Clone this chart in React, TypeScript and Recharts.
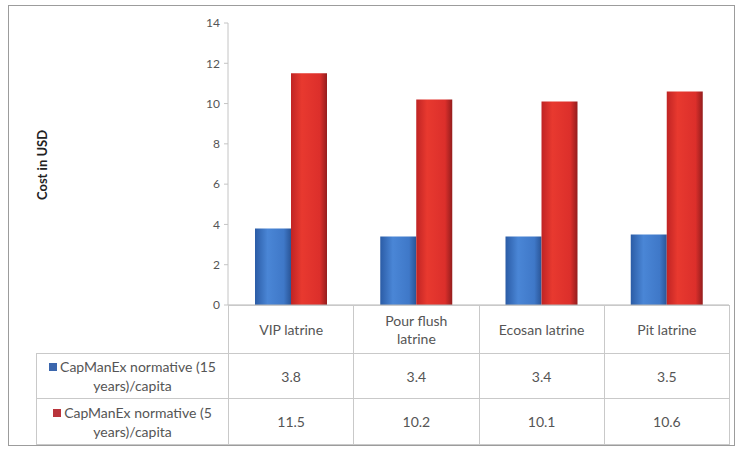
import { BarChart, Bar, XAxis, YAxis } from 'recharts'

const categories = ['VIP latrine', 'Pour flush latrine', 'Ecosan latrine', 'Pit latrine']
const series15 = [3.8, 3.4, 3.4, 3.5]
const series5 = [11.5, 10.2, 10.1, 10.6]
const seriesNames = ['CapManEx normative (15 years)/capita', 'CapManEx normative (5 years)/capita']
const yTicks = [0, 2, 4, 6, 8, 10, 12, 14]

const FONT = 'Lato, "Open Sans", sans-serif'
const LINE = '1px solid #c9c9c9'
const COL_W = 125.25

const data = categories.map((name, i) => ({ name, y15: series15[i], y5: series5[i] }))

export default function App() {
  const rows = [
    { name: seriesNames[0], values: series15, swatch: '#3b66ad' },
    { name: seriesNames[1], values: series5, swatch: '#b9343b' },
  ]

  return (
    <div style={{ position: 'absolute', left: 0, top: 0, width: 737, height: 449, background: '#fff', fontFamily: FONT }}>
      <div
        style={{
          position: 'absolute', left: 8, top: 5, width: 727, height: 441,
          border: '1.5px solid #9c9c9c', boxSizing: 'border-box',
        }}
      />
      <div style={{ position: 'absolute', left: 0, top: 0 }}>
        <BarChart
          width={737}
          height={449}
          data={data}
          margin={{ top: 23, right: 8, bottom: 114, left: 168 }}
          barGap={0}
          barSize={36}
        >
          <defs>
            <linearGradient id="blueGrad" x1="0" y1="0" x2="1" y2="0">
              <stop offset="0%" stopColor="#2b5ca6" />
              <stop offset="35%" stopColor="#4a86d6" />
              <stop offset="80%" stopColor="#3f78c8" />
              <stop offset="100%" stopColor="#2a5597" />
            </linearGradient>
            <linearGradient id="redGrad" x1="0" y1="0" x2="1" y2="0">
              <stop offset="0%" stopColor="#c02424" />
              <stop offset="30%" stopColor="#e8392f" />
              <stop offset="80%" stopColor="#dc2f2b" />
              <stop offset="100%" stopColor="#941d1d" />
            </linearGradient>
          </defs>
          <XAxis
            dataKey="name"
            height={30}
            tick={false}
            tickLine={false}
            axisLine={{ stroke: '#b5b5b5' }}
          />
          <YAxis
            width={60}
            domain={[0, 14]}
            ticks={yTicks}
            tickSize={4}
            tickMargin={4}
            axisLine={{ stroke: '#c4c4c4' }}
            tickLine={{ stroke: '#c4c4c4' }}
            tick={{ fill: '#555', fontSize: 12, fontFamily: FONT }}
          />
          <Bar dataKey="y15" fill="url(#blueGrad)" isAnimationActive={false} />
          <Bar dataKey="y5" fill="url(#redGrad)" isAnimationActive={false} />
        </BarChart>
      </div>

      <div
        style={{
          position: 'absolute', left: 42, top: 165, transform: 'translate(-50%, -50%) rotate(-90deg)',
          fontSize: 13, fontWeight: 700, color: '#222', whiteSpace: 'nowrap',
        }}
      >
        Cost in USD
      </div>

      <table
        style={{
          position: 'absolute', left: 36, top: 305, borderCollapse: 'collapse', tableLayout: 'fixed',
          width: 192 + COL_W * 4, fontSize: 14, color: '#555', textAlign: 'center',
        }}
      >
        <colgroup>
          <col style={{ width: 192 }} />
          {categories.map((c) => (
            <col key={c} style={{ width: COL_W }} />
          ))}
        </colgroup>
        <tbody>
          <tr style={{ height: 48 }}>
            <td style={{ padding: 0 }} />
            {categories.map((c) => (
              <td key={c} style={{ border: LINE, padding: '0 16px', lineHeight: '18px', boxSizing: 'border-box' }}>
                {c}
              </td>
            ))}
          </tr>
          {rows.map((r, ri) => (
            <tr key={r.name} style={{ height: ri === 0 ? 45 : 46 }}>
              <td style={{ border: LINE, padding: '0 2px', lineHeight: '19px', boxSizing: 'border-box' }}>
                <span
                  style={{
                    display: 'inline-block', width: 8, height: 8, background: r.swatch,
                    marginRight: 3, verticalAlign: 'middle', position: 'relative', top: -1,
                  }}
                />
                {r.name}
              </td>
              {r.values.map((v, i) => (
                <td key={i} style={{ border: LINE, padding: 0 }}>
                  {v.toFixed(1)}
                </td>
              ))}
            </tr>
          ))}
        </tbody>
      </table>
    </div>
  )
}
